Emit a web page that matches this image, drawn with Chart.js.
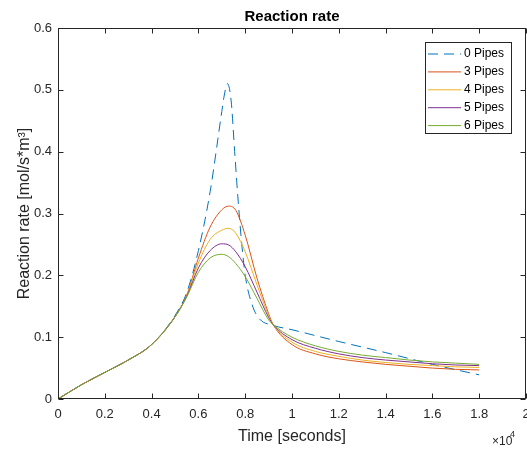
<!DOCTYPE html>
<html>
<head>
<meta charset="utf-8">
<script src="https://cdn.jsdelivr.net/npm/chart.js@4/dist/chart.umd.min.js"></script>
<style>
  html, body { margin: 0; padding: 0; background: #fff; }
  canvas { display: block; }
</style>
</head>
<body>
<canvas id="rateChart" width="527" height="450"></canvas>
<script>
// time in seconds
const timePipes = [0, 1000, 2000, 3000, 4000, 5000, 5500, 6000, 6500, 7000, 7300, 7600, 8000, 8500, 9000, 9200,
                   10000, 11000, 12000, 13000, 14000, 15000, 16000, 17000, 18000];
const timeNoPipes = [0, 1000, 2000, 3000, 4000, 5000, 5500, 6000, 6500, 7000, 7100, 7240, 7400, 7550, 7700, 7850,
                     8000, 8300, 8600, 9200, 10000, 12000, 14000, 16000, 18000];

const rate0 = [0, 0.023, 0.043, 0.063, 0.088, 0.135, 0.172, 0.24, 0.335, 0.465, 0.49, 0.51, 0.482, 0.4, 0.32, 0.252,
               0.2, 0.152, 0.13, 0.119, 0.112, 0.093, 0.075, 0.056, 0.039];
const rate3 = [0, 0.023, 0.043, 0.063, 0.088, 0.133, 0.168, 0.228, 0.278, 0.306, 0.312, 0.305, 0.265, 0.196, 0.138, 0.12,
               0.088, 0.073, 0.065, 0.06, 0.056, 0.053, 0.05, 0.048, 0.047];
const rate4 = [0, 0.023, 0.043, 0.063, 0.088, 0.133, 0.167, 0.22, 0.258, 0.273, 0.276, 0.268, 0.238, 0.185, 0.135, 0.12,
               0.092, 0.077, 0.069, 0.063, 0.059, 0.056, 0.054, 0.052, 0.051];
const rate5 = [0, 0.023, 0.043, 0.063, 0.088, 0.133, 0.166, 0.212, 0.24, 0.251, 0.249, 0.238, 0.214, 0.173, 0.132, 0.12,
               0.096, 0.082, 0.073, 0.067, 0.063, 0.06, 0.057, 0.055, 0.054];
const rate6 = [0, 0.023, 0.043, 0.063, 0.088, 0.133, 0.165, 0.205, 0.228, 0.234, 0.23, 0.219, 0.198, 0.163, 0.128, 0.12,
               0.1, 0.086, 0.077, 0.071, 0.067, 0.063, 0.06, 0.058, 0.056];

const seriesLabels = ['0 Pipes', '3 Pipes', '4 Pipes', '5 Pipes', '6 Pipes'];
const seriesColors = ['#0072BD', '#D95319', '#EDB120', '#7E2F8E', '#77AC30'];

const pts = (ts, vs) => ts.map((t, i) => ({ x: t, y: vs[i] }));

const axisColor = '#262626';
const fontFam = '"Liberation Sans", Arial, Helvetica, sans-serif';

// MATLAB-like box, inward ticks, title, exponent and legend
const matlabFrame = {
    id: 'matlabFrame',
    afterDraw(chart) {
        const { ctx, chartArea: a, scales } = chart;
        const L = Math.round(a.left) + 0.5, R = Math.round(a.right) - 0.5;
        const T = Math.round(a.top) + 0.5, B = Math.round(a.bottom) - 0.5;
        ctx.save();
        ctx.strokeStyle = axisColor;
        ctx.lineWidth = 1;
        ctx.setLineDash([]);
        ctx.strokeRect(L, T, R - L, B - T);

        ctx.beginPath();
        scales.x.ticks.forEach(t => {
            const px = Math.round(scales.x.getPixelForValue(t.value)) + 0.5;
            ctx.moveTo(px, B); ctx.lineTo(px, B - 5);
            ctx.moveTo(px, T); ctx.lineTo(px, T + 5);
        });
        scales.y.ticks.forEach(t => {
            const py = Math.round(scales.y.getPixelForValue(t.value)) + 0.5;
            ctx.moveTo(L, py); ctx.lineTo(L + 5, py);
            ctx.moveTo(R, py); ctx.lineTo(R - 5, py);
        });
        ctx.stroke();

        // title
        ctx.fillStyle = '#000';
        ctx.font = 'bold 15px ' + fontFam;
        ctx.textAlign = 'center';
        ctx.textBaseline = 'alphabetic';
        ctx.fillText('Reaction rate', (a.left + a.right) / 2, 21);

        // x10^4
        ctx.fillStyle = axisColor;
        ctx.textAlign = 'left';
        ctx.font = '12px ' + fontFam;
        ctx.fillText('\u00d710', 492, 445);
        ctx.font = '9px ' + fontFam;
        ctx.fillText('4', 510, 437);

        // legend
        const lx = 425.5, ly = 42.5, lw = 86, lh = 91;
        ctx.fillStyle = '#fff';
        ctx.fillRect(lx, ly, lw, lh);
        ctx.strokeStyle = axisColor;
        ctx.strokeRect(lx, ly, lw, lh);
        ctx.font = '12px ' + fontFam;
        ctx.textBaseline = 'middle';
        chart.data.datasets.forEach((ds, i) => {
            const yy = 54 + i * 17.9;
            ctx.strokeStyle = ds.borderColor;
            ctx.lineWidth = 1;
            ctx.setLineDash(ds.borderDash || []);
            ctx.beginPath();
            ctx.moveTo(428, yy); ctx.lineTo(461, yy);
            ctx.stroke();
            ctx.fillStyle = '#000';
            ctx.fillText(ds.label, 464, yy);
        });
        ctx.restore();
    }
};

const ctx = document.getElementById('rateChart').getContext('2d');

new Chart(ctx, {
    type: 'line',
    data: {
        datasets: [
            { label: seriesLabels[0], data: pts(timeNoPipes, rate0), borderColor: seriesColors[0], borderDash: [10, 6], order: 5 },
            { label: seriesLabels[1], data: pts(timePipes, rate3), borderColor: seriesColors[1], order: 4 },
            { label: seriesLabels[2], data: pts(timePipes, rate4), borderColor: seriesColors[2], order: 3 },
            { label: seriesLabels[3], data: pts(timePipes, rate5), borderColor: seriesColors[3], order: 2 },
            { label: seriesLabels[4], data: pts(timePipes, rate6), borderColor: seriesColors[4], order: 1 }
        ]
    },
    options: {
        responsive: false,
        animation: false,
        layout: { padding: { top: 28, right: 1, left: 0, bottom: 0 } },
        elements: {
            point: { radius: 0 },
            line: { borderWidth: 1, fill: false, cubicInterpolationMode: 'monotone' }
        },
        plugins: {
            legend: { display: false },
            title: { display: false },
            tooltip: { enabled: false }
        },
        scales: {
            x: {
                type: 'linear',
                min: 0,
                max: 20000,
                grid: { display: false, drawTicks: false },
                border: { display: false },
                ticks: {
                    stepSize: 2000,
                    padding: 8,
                    color: axisColor,
                    font: { family: fontFam, size: 13 },
                    maxRotation: 0,
                    autoSkip: false,
                    callback: v => String(v / 10000)
                },
                title: {
                    display: true,
                    text: 'Time [seconds]',
                    color: axisColor,
                    font: { family: fontFam, size: 16, lineHeight: 1 },
                    padding: { top: 0, bottom: 5 }
                },
                afterFit: s => { s.height = 51; s.paddingLeft = 0; s.paddingRight = 0; }
            },
            y: {
                min: 0,
                max: 0.6,
                grid: { display: false, drawTicks: false },
                border: { display: false },
                ticks: {
                    stepSize: 0.1,
                    padding: 6,
                    color: axisColor,
                    font: { family: fontFam, size: 13 },
                    callback: v => String(+v.toFixed(1))
                },
                title: {
                    display: true,
                    text: 'Reaction rate [mol/s*m\u00b3]',
                    color: axisColor,
                    font: { family: fontFam, size: 16, lineHeight: 1 },
                    padding: { top: 17, bottom: 0 }
                },
                afterFit: s => { s.width = 58; s.paddingTop = 0; s.paddingBottom = 0; }
            }
        }
    },
    plugins: [matlabFrame]
});
</script>
</body>
</html>
